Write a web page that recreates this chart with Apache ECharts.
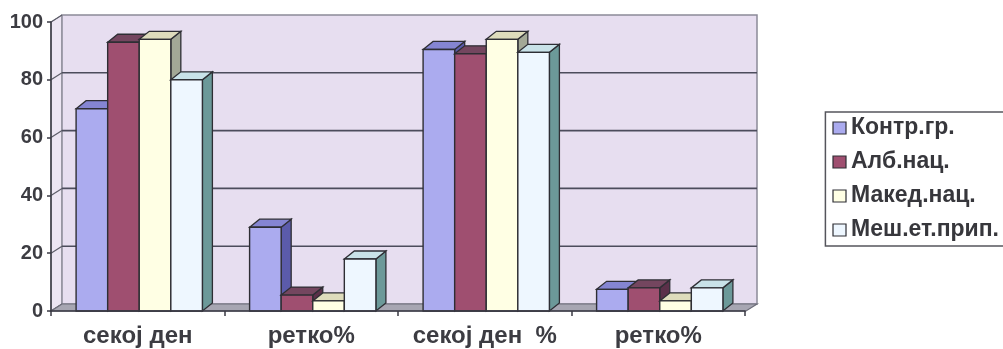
<!DOCTYPE html>
<html>
<head>
<meta charset="utf-8">
<script src="https://cdn.jsdelivr.net/npm/echarts@6/dist/echarts.min.js"></script>
<style>
  html, body { margin: 0; padding: 0; background: #ffffff; }
  #chart { width: 1003px; height: 349px; }
</style>
</head>
<body>
<div id="chart"></div>
<script>
// Categories and values per group
const categories = ['секој ден', 'ретко%', 'секој ден  %', 'ретко%'];
const seriesNames = ['Контр.гр.', 'Алб.нац.', 'Макед.нац.', 'Меш.ет.прип.'];
const kontrValues = [70, 29, 90.5, 7.5];
const albValues = [93, 5.5, 89, 8];
const makedValues = [94, 3.5, 94, 3.5];
const meshValues = [80, 18, 89.5, 8];
const yTicks = [0, 20, 40, 60, 80, 100];

// Face colours for each series: front, top, side
const palette = [
  { front: '#ababef', top: '#8585d2', side: '#5b5bab' },
  { front: '#9f4f70', top: '#74465f', side: '#5b3049' },
  { front: '#ffffe4', top: '#dedcbc', side: '#a3a896' },
  { front: '#eef7ff', top: '#c9e2e8', side: '#6c9999' }
];

const DEPTH_X = 11, DEPTH_Y = -7;      // wall offset
const BAR_DX = 10, BAR_DY = -8;        // bar extrusion
const FONT = '"Liberation Sans", Arial, sans-serif';
const EDGE = '#2e2e34';

// Back wall, side wall, floor and gridlines of the 3D frame
function renderFrame(params, api) {
  const cs = params.coordSys;
  const x = cs.x, y = cs.y, w = cs.width, h = cs.height;
  const children = [];
  children.push({
    type: 'polygon',
    shape: { points: [[x, y + h], [x, y], [x + DEPTH_X, y + DEPTH_Y], [x + DEPTH_X, y + h + DEPTH_Y]] },
    style: { fill: '#ece5f3', stroke: '#8c8c96', lineWidth: 1 }
  });
  children.push({
    type: 'rect',
    shape: { x: x + DEPTH_X, y: y + DEPTH_Y, width: w + 1, height: h },
    style: { fill: '#e7def0', stroke: '#8c8a98', lineWidth: 1.5 }
  });
  yTicks.forEach(function (v) {
    const yy = api.coord([0, v])[1];
    if (v > 0 && v < 100) {
      children.push({
        type: 'line',
        shape: { x1: x + DEPTH_X, y1: yy + DEPTH_Y, x2: x + w + DEPTH_X + 1, y2: yy + DEPTH_Y },
        style: { stroke: '#4c4c5c', lineWidth: 1.6 }
      });
    }
    children.push({
      type: 'line',
      shape: { x1: x, y1: yy, x2: x + DEPTH_X, y2: yy + DEPTH_Y },
      style: { stroke: '#5c5c68', lineWidth: 1.2 }
    });
  });
  children.push({
    type: 'polygon',
    shape: { points: [[x, y + h], [x + DEPTH_X, y + h + DEPTH_Y], [x + w + DEPTH_X + 1, y + h + DEPTH_Y], [x + w + 1, y + h]] },
    style: { fill: '#a7a6b2', stroke: '#6e6e7a', lineWidth: 1.2 }
  });
  return { type: 'group', children: children };
}

// A single extruded bar: front face, top face and right side face
function makeBarRenderer(seriesIndex) {
  return function (params, api) {
    const cat = api.value(0);
    const top = api.coord([cat, api.value(1)]);
    const base = api.coord([cat, 0]);
    const band = api.size([1, 0])[0];
    const bw = band * 0.182;
    const x0 = top[0] - 2 * bw + seriesIndex * bw + 1.5;
    const x1 = x0 + bw;
    const yt = top[1], yb = base[1];
    const c = palette[seriesIndex];
    return {
      type: 'group',
      children: [
        {
          type: 'polygon',
          shape: { points: [[x1, yt], [x1 + BAR_DX, yt + BAR_DY], [x1 + BAR_DX, yb + BAR_DY], [x1, yb]] },
          style: { fill: c.side, stroke: EDGE, lineWidth: 1.3 }
        },
        {
          type: 'polygon',
          shape: { points: [[x0, yt], [x0 + BAR_DX, yt + BAR_DY], [x1 + BAR_DX, yt + BAR_DY], [x1, yt]] },
          style: { fill: c.top, stroke: EDGE, lineWidth: 1.3 }
        },
        {
          type: 'rect',
          shape: { x: x0, y: yt, width: bw, height: yb - yt },
          style: { fill: c.front, stroke: EDGE, lineWidth: 1.4 }
        }
      ]
    };
  };
}

const valueSets = [kontrValues, albValues, makedValues, meshValues];
const barSeries = valueSets.map(function (vals, i) {
  return {
    name: seriesNames[i],
    type: 'custom',
    renderItem: makeBarRenderer(i),
    encode: { x: 0, y: 1 },
    itemStyle: { color: palette[i].front },
    z: 3,
    data: vals.map(function (v, k) { return [k, v]; })
  };
});

const chart = echarts.init(document.getElementById('chart'), null, { renderer: 'canvas' });
chart.setOption({
  animation: false,
  backgroundColor: '#ffffff',
  grid: { left: 51, right: 258, top: 22, bottom: 38, containLabel: false },
  legend: {
    orient: 'vertical',
    right: -8,
    top: 112,
    padding: [4, 12, 4, 7],
    itemGap: 10,
    itemWidth: 13,
    itemHeight: 12,
    icon: 'rect',
    borderColor: '#55555c',
    borderWidth: 1.5,
    backgroundColor: '#ffffff',
    itemStyle: { borderColor: '#2e2e34', borderWidth: 1.2 },
    textStyle: { fontFamily: FONT, fontWeight: 'bold', fontSize: 23, lineHeight: 24, color: '#37373c' },
    data: seriesNames
  },
  xAxis: {
    type: 'category',
    data: categories,
    z: 10,
    axisLine: { lineStyle: { color: '#3a3a44', width: 1.6 } },
    axisTick: { show: true, length: 5, lineStyle: { color: '#3a3a44', width: 1.5 } },
    axisLabel: { fontFamily: FONT, fontWeight: 'bold', fontSize: 24, color: '#3c3c42', margin: 13, interval: 0 },
    splitLine: { show: false }
  },
  yAxis: {
    type: 'value',
    min: 0,
    max: 100,
    interval: 20,
    z: 10,
    axisLine: { show: true, lineStyle: { color: '#3a3a44', width: 1.6 } },
    axisTick: { show: true, length: 4, lineStyle: { color: '#3a3a44', width: 1.5 } },
    axisLabel: { fontFamily: FONT, fontWeight: 'bold', fontSize: 20, color: '#3c3c42', margin: 8 },
    splitLine: { show: false }
  },
  series: [{
    type: 'custom',
    renderItem: renderFrame,
    z: 1,
    silent: true,
    data: [[0, 0]],
    encode: { x: 0, y: 1 }
  }].concat(barSeries)
});
</script>
</body>
</html>
